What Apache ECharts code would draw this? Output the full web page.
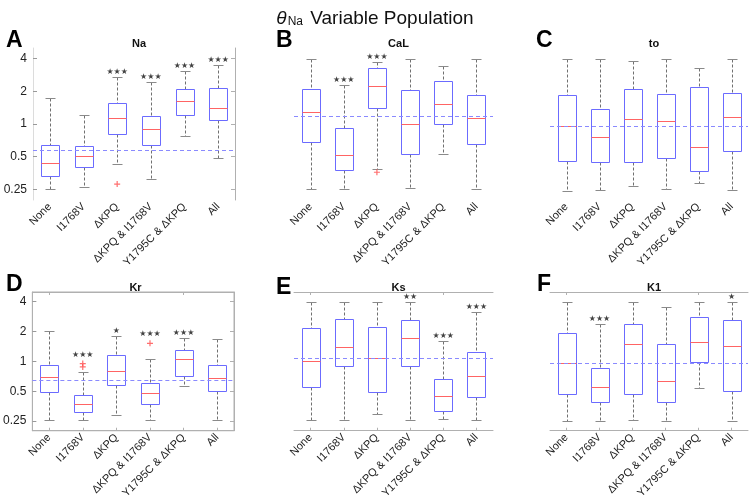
<!DOCTYPE html>
<html lang="en">
<head>
<meta charset="UTF-8">
<title>theta Na Variable Population</title>
<script src="https://cdn.jsdelivr.net/npm/echarts@6/dist/echarts.min.js"></script>
<style>
  html, body { margin: 0; padding: 0; background: #fff; }
  #chart { width: 750px; height: 501px; }
</style>
</head>
<body>
<div id="chart"></div>
<script>
// groups on the x axis (same for every panel)
var categories = ['None', 'I1768V', 'ΔKPQ', 'ΔKPQ & I1768V', 'Y1795C & ΔKPQ', 'All'];

// each box: [lower whisker, Q1, median, Q3, upper whisker]
var naBoxes = [
  [0.252, 0.334, 0.442, 0.646, 1.72],
  [0.262, 0.40, 0.51, 0.624, 1.2],
  [0.43, 0.81, 1.14, 1.55, 2.7],
  [0.31, 0.646, 0.9, 1.19, 2.45],
  [0.77, 1.2, 1.64, 2.1, 3.05],
  [0.49, 1.09, 1.41, 2.14, 3.46]
];
var naOutliers = [[2, 0.28]];
var naStars = ['', '', '***', '***', '***', '***'];
var naRef = 0.58;

var calBoxes = [
  [0.252, 0.69, 1.3, 2.1, 3.97],
  [0.252, 0.374, 0.514, 0.91, 2.28],
  [0.387, 1.39, 2.23, 3.27, 3.7],
  [0.259, 0.535, 0.99, 2.04, 3.97],
  [0.525, 0.99, 1.54, 2.46, 3.43],
  [0.252, 0.655, 1.13, 1.85, 3.92]
];
var calOutliers = [[2, 0.36]];
var calStars = ['', '***', '***', '', '', ''];
var calRef = 1.18;

var toBoxes = [
  [0.242, 0.46, 0.96, 1.85, 3.97],
  [0.247, 0.45, 0.76, 1.36, 3.92],
  [0.268, 0.447, 1.11, 2.08, 3.81],
  [0.252, 0.49, 1.065, 1.88, 3.97],
  [0.285, 0.371, 0.615, 2.2, 3.27],
  [0.247, 0.562, 1.15, 1.92, 3.92]
];
var toOutliers = [];
var toStars = ['', '', '', '', '', ''];
var toRef = 0.96;

var krBoxes = [
  [0.254, 0.486, 0.69, 0.91, 2.0],
  [0.254, 0.309, 0.373, 0.457, 0.79],
  [0.29, 0.58, 0.8, 1.15, 1.8],
  [0.254, 0.376, 0.476, 0.612, 1.05],
  [0.57, 0.71, 1.05, 1.31, 1.72],
  [0.254, 0.507, 0.68, 0.93, 1.67]
];
var krOutliers = [[1, 0.95], [1, 0.88], [3, 1.52]];
var krStars = ['', '***', '*', '***', '***', ''];
var krRef = 0.646;

var ksBoxes = [
  [0.254, 0.55, 1.02, 2.18, 4.0],
  [0.254, 0.9, 1.4, 2.7, 4.0],
  [0.298, 0.486, 1.09, 2.23, 3.97],
  [0.254, 0.89, 1.72, 2.64, 4.0],
  [0.264, 0.316, 0.444, 0.66, 1.62],
  [0.254, 0.434, 0.72, 1.24, 3.16]
];
var ksOutliers = [];
var ksStars = ['', '', '', '**', '***', '***'];
var ksRef = 1.07;

var k1Boxes = [
  [0.25, 0.47, 0.97, 1.95, 4.0],
  [0.25, 0.39, 0.55, 0.85, 2.37],
  [0.258, 0.464, 1.48, 2.36, 3.93],
  [0.25, 0.39, 0.64, 1.48, 3.56],
  [0.54, 0.98, 1.57, 2.83, 4.0],
  [0.25, 0.5, 1.44, 2.64, 4.0]
];
var k1Outliers = [];
var k1Stars = ['', '***', '', '', '', '*'];
var k1Ref = 0.95;

// y tick labels (log2 axis)
var yTicks = [0.25, 0.5, 1, 2, 4];
var yMin = 0.2, yMax = 5;

// panel layout: letter, title, data, grid box, which frame lines are drawn
var panels = [
  { letter: 'A', name: 'Na',  boxes: naBoxes,  out: naOutliers,  stars: naStars,  ref: naRef,
    grid: [33, 48, 202, 152], labels: true,  frame: 'A' },
  { letter: 'B', name: 'CaL', boxes: calBoxes, out: calOutliers, stars: calStars, ref: calRef,
    grid: [294, 48, 199, 152], labels: false, frame: 'none' },
  { letter: 'C', name: 'to',  boxes: toBoxes,  out: toOutliers,  stars: toStars,  ref: toRef,
    grid: [550, 48, 198, 152], labels: false, frame: 'none' },
  { letter: 'D', name: 'Kr',  boxes: krBoxes,  out: krOutliers,  stars: krStars,  ref: krRef,
    grid: [27, 292, 207, 141], labels: true,  frame: 'box' },
  { letter: 'E', name: 'Ks',  boxes: ksBoxes,  out: ksOutliers,  stars: ksStars,  ref: ksRef,
    grid: [294, 292, 199, 141], labels: false, frame: 'tb' },
  { letter: 'F', name: 'K1',  boxes: k1Boxes,  out: k1Outliers,  stars: k1Stars,  ref: k1Ref,
    grid: [550, 292, 198, 141], labels: false, frame: 'tb' }
];

var FONT = '"Liberation Sans", Arial, sans-serif';
var frameColor = '#b0b0b0';

function lg(v) { return Math.log2(v); }

// box + dashed whiskers + red median, all through the axis coords
function renderBox(params, api) {
  var x = api.value(0);
  var lo = api.coord([x, api.value(1)]);
  var q1 = api.coord([x, api.value(2)]);
  var md = api.coord([x, api.value(3)]);
  var q3 = api.coord([x, api.value(4)]);
  var hi = api.coord([x, api.value(5)]);
  var band = api.size([1, 0])[0];
  var half = Math.round(band * 0.27);
  var cap = Math.round(band * 0.15);
  var cx = Math.round(md[0]) + 0.5;
  function r(y) { return Math.round(y) + 0.5; }
  var whisk = { stroke: '#707070', lineWidth: 1, lineDash: [3, 2], fill: null };
  var capSt = { stroke: '#8a8a8a', lineWidth: 1, fill: null };
  return {
    type: 'group',
    children: [
      { type: 'line', shape: { x1: cx, y1: r(hi[1]), x2: cx, y2: r(q3[1]) }, style: whisk },
      { type: 'line', shape: { x1: cx, y1: r(q1[1]), x2: cx, y2: r(lo[1]) }, style: whisk },
      { type: 'line', shape: { x1: cx - cap, y1: r(hi[1]), x2: cx + cap, y2: r(hi[1]) }, style: capSt },
      { type: 'line', shape: { x1: cx - cap, y1: r(lo[1]), x2: cx + cap, y2: r(lo[1]) }, style: capSt },
      { type: 'rect', shape: { x: cx - half, y: r(q3[1]), width: 2 * half, height: r(q1[1]) - r(q3[1]) },
        style: { fill: '#ffffff', stroke: '#6b6bff', lineWidth: 1 } },
      { type: 'line', shape: { x1: cx - half, y1: r(md[1]), x2: cx + half, y2: r(md[1]) },
        style: { stroke: '#ff6464', lineWidth: 1 } }
    ]
  };
}

var option = {
  backgroundColor: '#ffffff',
  animation: false,
  title: [],
  grid: [],
  xAxis: [],
  yAxis: [],
  series: []
};

option.title.push({
  text: '{t|θ}{s|Na}{m| Variable Population}',
  left: 'center',
  top: 1,
  textStyle: {
    fontWeight: 'normal',
    rich: {
      t: { fontFamily: FONT, fontSize: 19, fontStyle: 'italic', fontWeight: 'normal', color: '#111', verticalAlign: 'bottom', lineHeight: 22 },
      s: { fontFamily: FONT, fontSize: 12, fontWeight: 'normal', color: '#111', verticalAlign: 'bottom', lineHeight: 22, padding: [0, 2, 0, 1] },
      m: { fontFamily: FONT, fontSize: 19, fontWeight: 'normal', color: '#111', verticalAlign: 'bottom', lineHeight: 22 }
    }
  }
});

var letterPos = [[1, 24], [271, 24], [531, 24], [1, 268], [271, 271], [532, 268]];

panels.forEach(function (p, i) {
  var g = p.grid;
  option.grid.push({ left: g[0], top: g[1], width: g[2], height: g[3],
    show: p.frame === 'box', borderColor: frameColor, borderWidth: 1 });

  option.title.push({
    text: p.letter, left: letterPos[i][0], top: letterPos[i][1],
    textStyle: { fontFamily: FONT, fontSize: 23, fontWeight: 'bold', color: '#000' }
  });
  option.title.push({
    text: p.name, left: g[0] + g[2] / 2, top: g[1] - 15, textAlign: 'center',
    textStyle: { fontFamily: FONT, fontSize: 11, fontWeight: 'bold', color: '#111' }
  });

  var showFrameX = p.frame === 'tb' || p.frame === 'box';
  // bottom category axis with rotated labels
  option.xAxis.push({
    type: 'category', gridIndex: i, data: categories, position: 'bottom',
    axisLine: { show: showFrameX, onZero: false, lineStyle: { color: frameColor } },
    axisTick: { show: showFrameX, inside: true, alignWithLabel: true, length: 3, lineStyle: { color: frameColor } },
    axisLabel: { rotate: 45, margin: 5, fontFamily: FONT, fontSize: 11, color: '#222', interval: 0 },
    splitLine: { show: false }
  });
  // top helper axis (frame line only)
  option.xAxis.push({
    type: 'category', gridIndex: i, data: categories, position: 'top',
    axisLine: { show: showFrameX, onZero: false, lineStyle: { color: frameColor } },
    axisTick: { show: showFrameX, inside: true, alignWithLabel: true, length: 3, lineStyle: { color: frameColor } },
    axisLabel: { show: false }, splitLine: { show: false }
  });

  var sideLines = p.frame === 'A' || p.frame === 'box';
  option.yAxis.push({
    type: 'value', gridIndex: i, min: lg(yMin), max: lg(yMax), position: 'left',
    axisLine: { show: sideLines, onZero: false, lineStyle: { color: p.frame === 'A' ? '#dcdcdc' : frameColor } },
    axisTick: { show: p.labels, inside: true, length: 4, lineStyle: { color: '#999' },
      customValues: yTicks.map(lg) },
    axisLabel: { show: p.labels, fontFamily: FONT, fontSize: 12, color: '#222', margin: 6,
      customValues: yTicks.map(lg),
      formatter: function (v) { return String(+Math.pow(2, v).toFixed(2)); } },
    splitLine: { show: false }
  });
  option.yAxis.push({
    type: 'value', gridIndex: i, min: lg(yMin), max: lg(yMax), position: 'right',
    axisLine: { show: sideLines, onZero: false, lineStyle: { color: frameColor } },
    axisTick: { show: sideLines, inside: true, length: 4, lineStyle: { color: frameColor },
      customValues: yTicks.map(lg) },
    axisLabel: { show: false }, splitLine: { show: false }
  });

  var xi = 2 * i, yi = 2 * i;

  option.series.push({
    type: 'custom', xAxisIndex: xi, yAxisIndex: yi, renderItem: renderBox,
    encode: { x: 0, y: [1, 2, 3, 4, 5] }, z: 3,
    data: p.boxes.map(function (b, k) { return [k, lg(b[0]), lg(b[1]), lg(b[2]), lg(b[3]), lg(b[4])]; })
  });

  option.series.push({
    type: 'scatter', xAxisIndex: xi, yAxisIndex: yi, z: 4,
    symbol: 'path://M4,0h2v10h-2z M0,4h10v2h-10z', symbolSize: 6,
    itemStyle: { color: '#ff4a4a' },
    data: p.out.map(function (o) { return [o[0], lg(o[1])]; })
  });

  // stars sit above the highest point of each group (whisker or outlier)
  function starItem(s, k) {
    var t = p.boxes[k][4], fromOutlier = false;
    p.out.forEach(function (o) { if (o[0] === k && o[1] > t) { t = o[1]; fromOutlier = true; } });
    return { value: [k, lg(t), s], label: { distance: fromOutlier ? 5 : 1 } };
  }

  // significance stars, plus the dashed reference line
  option.series.push({
    type: 'scatter', xAxisIndex: xi, yAxisIndex: yi, z: 5, symbolSize: 0,
    label: {
      show: true, position: 'top', distance: 1,
      fontFamily: '"DejaVu Sans", sans-serif', fontSize: 8, color: '#111',
      formatter: function (d) { return d.value[2].replace(/\*/g, '★'); }
    },
    data: p.stars.map(starItem).filter(function (d) { return d.value[2] !== ''; }),
    markLine: {
      silent: true, symbol: 'none', label: { show: false }, animation: false,
      lineStyle: { color: '#8a8aff', type: [4, 3], width: 1 },
      data: [{ yAxis: lg(p.ref) }]
    }
  });
});

var chart = echarts.init(document.getElementById('chart'), null, { renderer: 'canvas' });
chart.setOption(option);
</script>
</body>
</html>
